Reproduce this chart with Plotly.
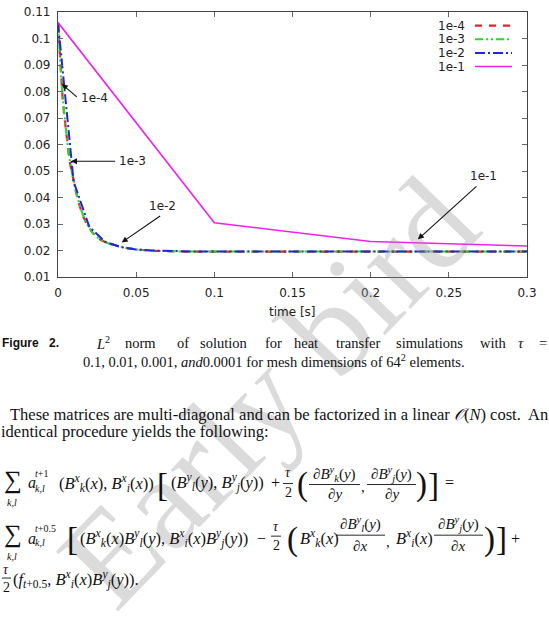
import plotly.graph_objects as go

# ---------------- data ----------------
t_1e4 = [0, 0.0005, 0.001, 0.0015, 0.002, 0.003, 0.004, 0.005, 0.006, 0.007,
         0.008, 0.009, 0.010, 0.012, 0.014, 0.016, 0.018, 0.020, 0.022, 0.025,
         0.028, 0.031, 0.035, 0.040, 0.045, 0.050, 0.060, 0.070, 0.080, 0.100,
         0.150, 0.200, 0.250, 0.300]
l2_1e4 = [0.106, 0.101, 0.096, 0.089, 0.084, 0.077, 0.071, 0.065, 0.060, 0.0556,
          0.052, 0.049, 0.046, 0.041, 0.0365, 0.033, 0.0305, 0.0285, 0.0268, 0.0250,
          0.0238, 0.0230, 0.0222, 0.0214, 0.0208, 0.0204, 0.0199, 0.0197, 0.0196, 0.0196,
          0.0196, 0.0196, 0.0196, 0.0196]

t_1e3 = [0, 0.001, 0.002, 0.003, 0.004, 0.005, 0.006, 0.007, 0.008, 0.009,
         0.010, 0.012, 0.014, 0.016, 0.018, 0.020, 0.023, 0.026, 0.030, 0.035,
         0.040, 0.045, 0.050, 0.060, 0.070, 0.080, 0.100, 0.150, 0.200, 0.250, 0.300]
l2_1e3 = [0.106, 0.094, 0.085, 0.078, 0.0715, 0.0655, 0.0605, 0.056, 0.0522, 0.0488,
          0.0458, 0.0408, 0.0367, 0.0333, 0.0305, 0.0284, 0.0262, 0.0246, 0.0232, 0.0221,
          0.0214, 0.0208, 0.0204, 0.0199, 0.0197, 0.0196, 0.0196, 0.0196, 0.0196, 0.0196, 0.0196]

t_1e2 = [0.00, 0.01, 0.02, 0.03, 0.04, 0.05, 0.06, 0.07, 0.08, 0.09, 0.10,
         0.11, 0.12, 0.13, 0.14, 0.15, 0.16, 0.17, 0.18, 0.19, 0.20,
         0.21, 0.22, 0.23, 0.24, 0.25, 0.26, 0.27, 0.28, 0.29, 0.30]
l2_1e2 = [0.106, 0.046, 0.0290, 0.0233, 0.0213, 0.0204, 0.0200, 0.0198, 0.0197, 0.0196, 0.0196,
          0.0196, 0.0196, 0.0196, 0.0196, 0.0196, 0.0196, 0.0196, 0.0196, 0.0196, 0.0196,
          0.0196, 0.0196, 0.0196, 0.0196, 0.0196, 0.0196, 0.0196, 0.0196, 0.0196, 0.0196]

t_1e1 = [0.0, 0.1, 0.2, 0.3]
l2_1e1 = [0.106, 0.0305, 0.0234, 0.0217]

series_names = ["1e-4", "1e-3", "1e-2", "1e-1"]
series_colors = ["#e8202a", "#22dd22", "#2424dd", "#ee22ee"]
series_dash = ["7px,7px", "8px,3px,2px,3px,2px,3px", "10px,3px,2px,3px", "solid"]
series_width = [2.2, 2.0, 2.0, 1.6]

x_tickvals = [0, 0.05, 0.1, 0.15, 0.2, 0.25, 0.3]
x_ticktext = ["0", "0.05", "0.1", "0.15", "0.2", "0.25", "0.3"]
y_tickvals = [0.01, 0.02, 0.03, 0.04, 0.05, 0.06, 0.07, 0.08, 0.09, 0.10, 0.11]
y_ticktext = ["0.01", "0.02", "0.03", "0.04", "0.05", "0.06", "0.07", "0.08", "0.09", "0.1", "0.11"]

# ---------------- figure ----------------
W, H = 549, 631
ML, MR, MT, MB = 58, 22, 5, 354
PW, PH = W - ML - MR, H - MT - MB


def P(px, py):
    return (px - ML) / PW, (H - MB - py) / PH


fig = go.Figure()
xs = [t_1e4, t_1e3, t_1e2, t_1e1]
ys = [l2_1e4, l2_1e3, l2_1e2, l2_1e1]
for i in range(4):
    fig.add_trace(go.Scatter(
        x=xs[i], y=ys[i], mode="lines", name=series_names[i],
        line=dict(color=series_colors[i], width=series_width[i], dash=series_dash[i]),
        showlegend=False))

SANS = "DejaVu Sans"
SERIF = "Liberation Serif"
ann = []
shapes = []

# watermark
wx, wy = P(268, 396)
ann.append(dict(text="Early bird", x=wx, y=wy, xref="paper", yref="paper",
                showarrow=False, textangle=-46, xanchor="center", yanchor="middle",
                font=dict(family=SERIF, size=132, color="rgba(150,150,150,0.34)")))

# custom legend (text left, sample right, gnuplot style)
leg_rows = [19, 33, 47, 61]
for i in range(4):
    tx, ty = P(467, leg_rows[i])
    ann.append(dict(text=series_names[i], x=tx, y=ty, xref="paper", yref="paper",
                    showarrow=False, xanchor="right", yanchor="middle",
                    font=dict(family=SANS, size=12, color="#222")))
    x0, yy = P(475, leg_rows[i])
    x1, _ = P(512, leg_rows[i])
    shapes.append(dict(type="line", xref="paper", yref="paper", x0=x0, x1=x1, y0=yy, y1=yy,
                       line=dict(color=series_colors[i], width=series_width[i], dash=series_dash[i])))

# labelled arrows on the plot (text, text pos, arrow tail, arrow tip) in data coords
labels = [
    ("1e-4", (0.0236, 0.0776), (0.0130, 0.0775), (0.0024, 0.0828)),
    ("1e-3", (0.0477, 0.0536), (0.0375, 0.0537), (0.0083, 0.0537)),
    ("1e-2", (0.0669, 0.0368), (0.0663, 0.0334), (0.0407, 0.0230)),
    ("1e-1", (0.2722, 0.0483), (0.2686, 0.0447), (0.2302, 0.0242)),
]
for txt, tp, tail, tip in labels:
    ann.append(dict(text=txt, x=tp[0], y=tp[1], xref="x", yref="y", showarrow=False,
                    xanchor="center", yanchor="middle",
                    font=dict(family=SANS, size=12, color="#222")))
    ann.append(dict(text="", x=tip[0], y=tip[1], xref="x", yref="y",
                    ax=tail[0], ay=tail[1], axref="x", ayref="y", showarrow=True,
                    arrowhead=2, arrowsize=1.1, arrowwidth=1.1, arrowcolor="#111", standoff=0))

# x axis title
tx, ty = P(292.5, 313)
ann.append(dict(text="time [s]", x=tx, y=ty, xref="paper", yref="paper", showarrow=False,
                xanchor="center", yanchor="middle",
                font=dict(family=SANS, size=12, color="#222")))


def add_text(text, px, py, size=15, anchor="center", family=SERIF, color="#111"):
    x, y = P(px, py)
    ann.append(dict(text=text, x=x, y=y, xref="paper", yref="paper", showarrow=False,
                    xanchor=anchor, yanchor="middle",
                    font=dict(family=family, size=size, color=color)))


def bar(x0p, x1p, yp):
    x0, y = P(x0p, yp)
    x1, _ = P(x1p, yp)
    shapes.append(dict(type="line", xref="paper", yref="paper", x0=x0, x1=x1, y0=y, y1=y,
                       line=dict(color="#111", width=0.9)))


# caption
add_text("<b>Figure</b>", 0, 345, 12, "left", "Liberation Sans")
add_text("<b>2.</b>", 47, 345, 12, "left", "Liberation Sans")
cap_words = [("<i>L</i><sup>2</sup>", 103), ("norm", 140), ("of", 183), ("solution", 223),
             ("for", 273), ("heat", 305.5), ("transfer", 358), ("simulations", 429),
             ("with", 493), ("<i>τ</i>", 521), ("=", 543)]
for w, cx in cap_words:
    add_text(w, cx, 345, 14.5)
add_text("0.1, 0.01, 0.001, <i>and</i>0.0001 for mesh dimensions of 64<sup>2</sup> elements.",
         274, 363, 14.5)

# body text
add_text("These matrices are multi-diagonal and can be factorized in a linear "
         "<i>𝒪</i>(<i>N</i>) cost.  An", 7.5, 418, 16.5, "left")
add_text("identical procedure yields the following:", -1, 436, 16.5, "left")


def B(sup, sub, arg):
    return f"<i>B</i><sup><i>{sup}</i></sup><sub><i>{sub}</i></sub>(<i>{arg}</i>)"


def dB(sup, sub, arg):
    return "∂" + B(sup, sub, arg)


# equation line 1
add_text("∑", 13, 485, 25)
add_text("<i>k,l</i>", 12, 508, 10)
add_text("<i>a</i>", 26, 488, 16, "left")
add_text("<i>t</i>+1", 33, 479, 10, "left")
add_text("<i>k,l</i>", 33, 494, 10, "left")
add_text("(" + B("x", "k", "x") + ", " + B("x", "i", "x") + ")", 57, 488, 16.5, "left")
add_text("[", 162, 490, 33)
add_text("(" + B("y", "l", "y") + ", " + B("y", "j", "y") + ")", 169, 488, 16.5, "left")
add_text("+", 275, 488, 16)
add_text("<i>τ</i>", 288, 478, 14)
add_text("2", 288, 498, 14)
bar(283, 293, 489)
add_text("(", 302, 490, 33)
add_text(dB("y", "k", "y"), 334, 479, 15)
add_text("∂<i>y</i>", 335, 500, 15)
bar(309, 360, 490)
add_text(",", 363, 493, 15)
add_text(dB("y", "j", "y"), 391, 479, 15)
add_text("∂<i>y</i>", 392, 500, 15)
bar(367, 416, 490)
add_text(")", 421, 490, 33)
add_text("]", 433, 490, 33)
add_text("=", 449, 488, 16)

# equation line 2
add_text("∑", 13, 541, 25)
add_text("<i>k,l</i>", 12, 564, 10)
add_text("<i>a</i>", 26, 545, 16, "left")
add_text("<i>t</i>+0.5", 33, 535, 10, "left")
add_text("<i>k,l</i>", 33, 550, 10, "left")
add_text("[", 72, 546, 33)
add_text("(" + B("x", "k", "x") + B("y", "l", "y") + ", " + B("x", "i", "x") + B("y", "j", "y") + ")",
         78, 545, 16.5, "left")
add_text("−", 261, 545, 16)
add_text("<i>τ</i>", 276, 533, 14)
add_text("2", 276, 553, 14)
bar(271, 281, 543)
add_text("(", 292, 546, 33)
add_text(B("x", "k", "x"), 298, 545, 16.5, "left")
add_text(dB("y", "l", "y"), 360, 531, 15)
add_text("∂<i>x</i>", 360, 553, 15)
bar(336, 385, 542)
add_text(",", 388, 549, 15)
add_text(B("x", "i", "x"), 394, 545, 16.5, "left")
add_text(dB("y", "j", "y"), 458, 531, 15)
add_text("∂<i>x</i>", 458, 553, 15)
bar(434, 483, 542)
add_text(")", 489, 546, 33)
add_text("]", 501, 546, 33)
add_text("+", 515, 545, 16)

# equation line 3
add_text("<i>τ</i>", 6, 577, 14)
add_text("2", 6, 596, 14)
bar(2, 11, 586)
add_text("(<i>f</i><sub><i>t</i>+0.5</sub>, " + B("x", "i", "x") + B("y", "j", "y") + ").", 11, 587, 16.5, "left")

axis_common = dict(showline=True, linecolor="#444", linewidth=1.2, mirror="ticks",
                   ticks="inside", ticklen=5, tickcolor="#666", tickwidth=1,
                   showgrid=False, zeroline=False, ticklabeloverflow="allow",
                   tickfont=dict(family=SANS, size=12, color="#222"))

fig.update_layout(
    width=W, height=H, margin=dict(l=ML, r=MR, t=MT, b=MB),
    paper_bgcolor="white", plot_bgcolor="white", showlegend=False,
    xaxis=dict(range=[0, 0.3], tickvals=x_tickvals, ticktext=x_ticktext,
               ticklabelstandoff=4, **axis_common),
    yaxis=dict(range=[0.01, 0.1100001], tickvals=y_tickvals, ticktext=y_ticktext,
               ticklabelstandoff=4, **axis_common),
    annotations=ann, shapes=shapes,
)

fig.write_html("out.html")
